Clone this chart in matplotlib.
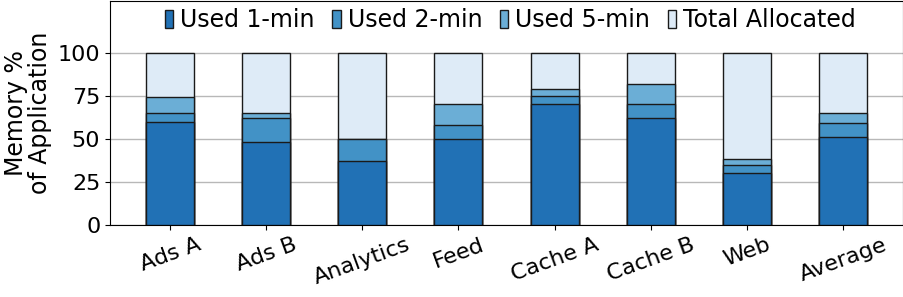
import matplotlib
matplotlib.use("Agg")
import matplotlib.pyplot as plt
import numpy as np

categories = ["Ads A", "Ads B", "Analytics", "Feed", "Cache A", "Cache B", "Web", "Average"]
# cumulative percentages (each includes the lower ones)
used_1min = [60, 48, 37, 50, 70, 62, 30, 51]
used_2min = [65, 62, 50, 58, 75, 70, 34.5, 59]
used_5min = [74, 65, 50, 70, 79, 81.5, 38, 65]
total_alloc = [100, 100, 100, 100, 100, 100, 100, 100]

series = [
    ("Total Allocated", total_alloc, "#deebf7"),
    ("Used 5-min", used_5min, "#6baed6"),
    ("Used 2-min", used_2min, "#4292c6"),
    ("Used 1-min", used_1min, "#2171b5"),
]

fig = plt.figure(figsize=(9.04, 2.97), dpi=100)
ax = fig.add_axes([0.1217, 0.2424, 0.8772, 0.755])
x = np.arange(len(categories))
handles = {}
for name, vals, col in series:
    h = ax.bar(x, vals, width=0.5, color=col, edgecolor="#1a1a1a", linewidth=1.0, zorder=3)
    handles[name] = h

order = ["Used 1-min", "Used 2-min", "Used 5-min", "Total Allocated"]
ax.legend([handles[n] for n in order], order, loc="upper center", ncol=4,
          frameon=False, fontsize=17, handlelength=0.35, handleheight=0.8,
          handletextpad=0.3, columnspacing=0.75, borderaxespad=0.0,
          bbox_to_anchor=(0.505, 1.01))

ax.set_ylim(0, 130)
ax.set_yticks([0, 25, 50, 75, 100])
ax.yaxis.grid(True, color="#b8b8b8", linewidth=1.0, zorder=0)
ax.set_axisbelow(True)
ax.set_xticks(x)
ax.set_xticklabels(categories, rotation=20, ha="center", fontsize=16)
ax.tick_params(axis="y", labelsize=16)
ax.set_ylabel("Memory %\nof Application", fontsize=17, linespacing=1.0, labelpad=4)
for s in ax.spines.values():
    s.set_color("black")

fig.savefig("out.png", dpi=100)
